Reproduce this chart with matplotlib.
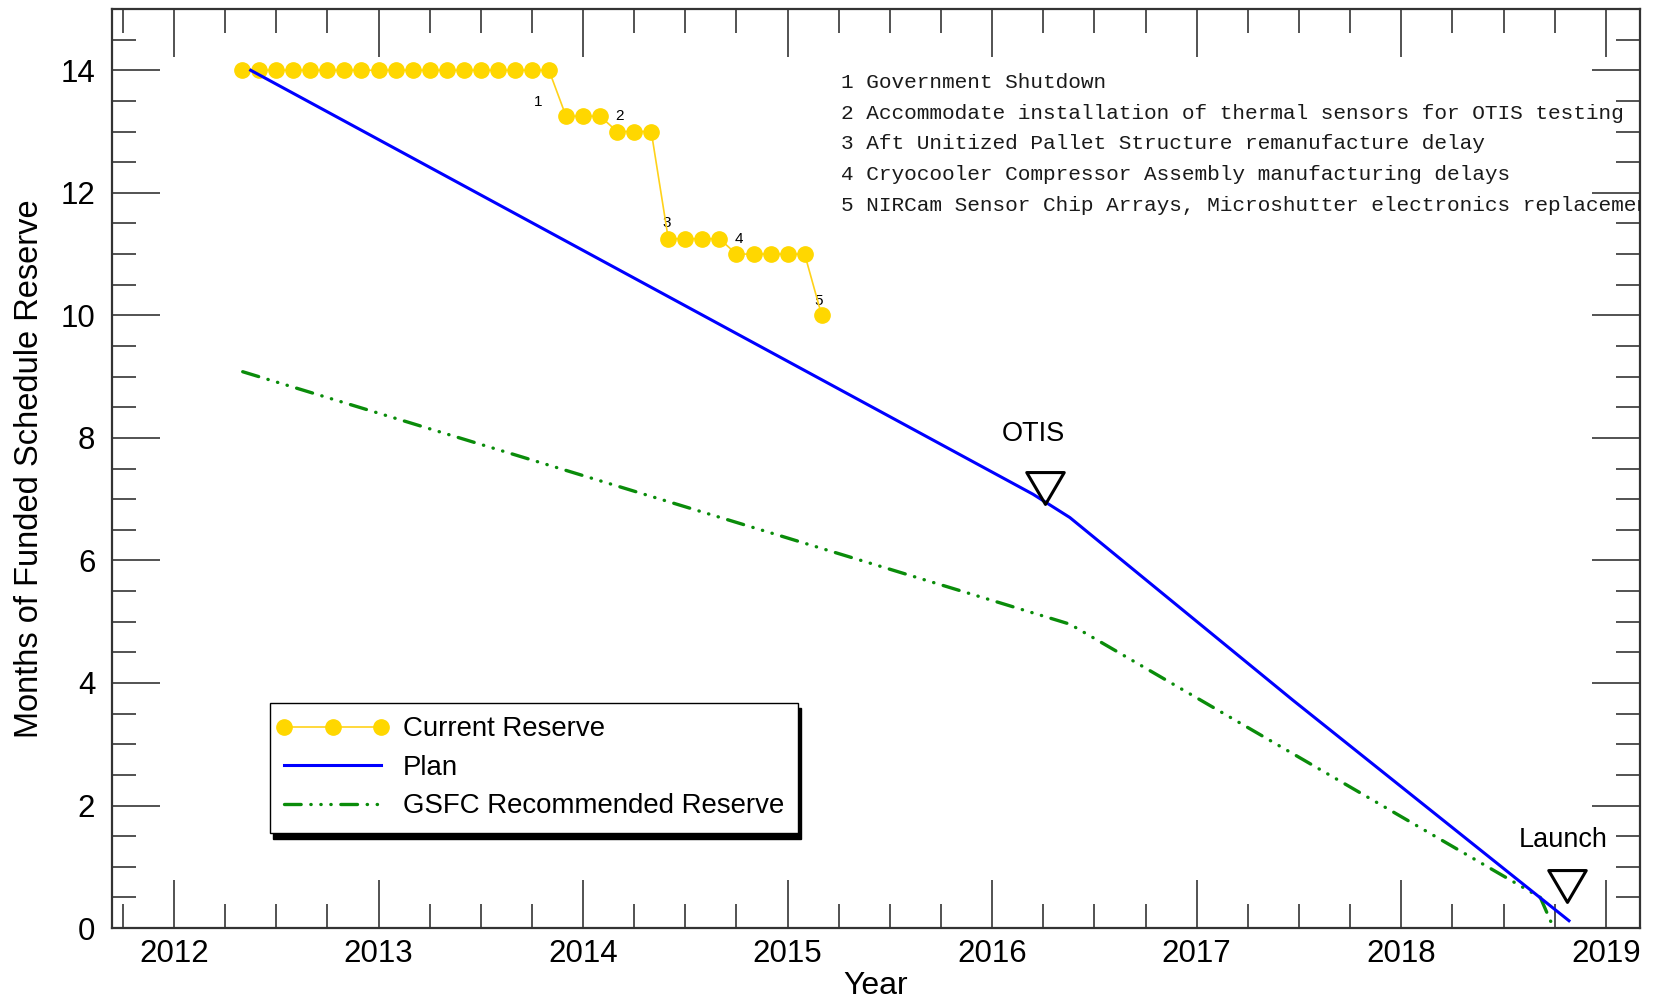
import matplotlib
matplotlib.use('Agg')
import matplotlib.pyplot as plt
from matplotlib.ticker import AutoMinorLocator, MultipleLocator
from matplotlib.path import Path
from matplotlib.lines import Line2D
from matplotlib.legend_handler import HandlerLine2D

plt.rcParams['font.family'] = ['Liberation Sans', 'DejaVu Sans']

# current reserve, one value per month
months = ['2012-05', '2012-06', '2012-07', '2012-08', '2012-09', '2012-10', '2012-11', '2012-12',
          '2013-01', '2013-02', '2013-03', '2013-04', '2013-05', '2013-06', '2013-07', '2013-08',
          '2013-09', '2013-10', '2013-11', '2013-12',
          '2014-01', '2014-02', '2014-03', '2014-04', '2014-05', '2014-06', '2014-07', '2014-08',
          '2014-09', '2014-10', '2014-11', '2014-12',
          '2015-01', '2015-02', '2015-03']
current = [14, 14, 14, 14, 14, 14, 14, 14,
           14, 14, 14, 14, 14, 14, 14, 14,
           14, 14, 14, 13.25,
           13.25, 13.25, 13, 13, 13, 11.25, 11.25, 11.25,
           11.25, 11, 11, 11,
           11, 11, 10]

plan_x = [2012.375, 2016.2, 2016.38, 2017.47, 2018.82]
plan_y = [14.0, 7.08, 6.70, 3.72, 0.12]

gsfc_x = [2012.336, 2016.38, 2018.68, 2018.745]
gsfc_y = [9.08, 4.96, 0.50, 0.0]

# numbered events on the current reserve line
step_labels = ['1', '2', '3', '4', '5']
step_x = [2013.78, 2014.18, 2014.41, 2014.76, 2015.15]
step_y = [13.49, 13.25, 11.50, 11.24, 10.24]

notes = ['1 Government Shutdown',
         '2 Accommodate installation of thermal sensors for OTIS testing',
         '3 Aft Unitized Pallet Structure remanufacture delay',
         '4 Cryocooler Compressor Assembly manufacturing delays',
         '5 NIRCam Sensor Chip Arrays, Microshutter electronics replacement']
notes_x = 2015.26
notes_y = [13.8, 13.3, 12.8, 12.3, 11.8]

milestones = ['OTIS', 'Launch']
milestone_x = [2016.26, 2018.81]
milestone_y = [7.18, 0.68]
milestone_text_x = [2016.20, 2018.79]
milestone_text_y = [8.06, 1.43]


def to_year(m):
    y, mo = m.split('-')
    return int(y) + (int(mo) - 1) / 12.0


cur_x = [to_year(m) for m in months]

fig = plt.figure(figsize=(16.57, 9.99), dpi=100)
ax = fig.add_axes([0.0676, 0.071, 0.9221, 0.920])

ax.plot(cur_x, current, color='#FFD21A', lw=1.2, marker='o', ms=11,
        mfc='#FFD700', mec='#FFD700', label='Current Reserve', zorder=4)
ax.plot(plan_x, plan_y, color='#0000FF', lw=2.2, label='Plan', zorder=5)
ax.plot(gsfc_x, gsfc_y, color='#0A8C0A', lw=2.4,
        linestyle=(0, (5.0, 2.9, 0.1, 2.9, 0.1, 2.9, 0.1, 2.9)),
        dash_capstyle='round', label='GSFC Recommended Reserve', zorder=3)

tri = Path([(-1, 0.85), (1, 0.85), (0, -0.85), (-1, 0.85)],
           [Path.MOVETO, Path.LINETO, Path.LINETO, Path.CLOSEPOLY])
ax.plot(milestone_x, milestone_y, linestyle='none', marker=tri, ms=27,
        mfc='none', mec='black', mew=2.2, zorder=6)
for name, tx, ty in zip(milestones, milestone_text_x, milestone_text_y):
    ax.text(tx, ty, name, fontsize=19.5, ha='center', va='center')

for lab, sx, sy in zip(step_labels, step_x, step_y):
    ax.text(sx, sy, lab, fontsize=11, ha='center', va='center')

# last note runs past the right edge in the original, so it is clipped
for note, ny in zip(notes, notes_y):
    ax.text(notes_x, ny, note, family='Liberation Mono', fontsize=15.2,
            color='#1a1a1a', ha='left', va='center', clip_on=True)

ax.set_xlim(2011.697, 2019.167)
ax.set_ylim(0, 15)
ax.xaxis.set_major_locator(MultipleLocator(1))
ax.xaxis.set_minor_locator(AutoMinorLocator(4))
ax.yaxis.set_major_locator(MultipleLocator(2))
ax.yaxis.set_minor_locator(AutoMinorLocator(4))
ax.xaxis.set_major_formatter(matplotlib.ticker.FormatStrFormatter('%d'))

ax.tick_params(which='both', direction='in', top=True, right=True, color='#444444')
ax.tick_params(which='major', length=34.5, width=1.3, labelsize=22.5)
ax.tick_params(axis='x', which='major', pad=8)
ax.tick_params(axis='y', which='major', pad=12)
ax.tick_params(which='minor', length=17.3, width=1.3)
for sp in ax.spines.values():
    sp.set_color('#333333')
    sp.set_linewidth(1.6)

ax.set_xlabel('Year', fontsize=23)
ax.set_ylabel('Months of Funded Schedule Reserve', fontsize=23.5)
ax.xaxis.set_label_coords(0.5, -0.047)
ax.yaxis.set_label_coords(-0.044, 0.5)

leg = ax.legend(loc='lower left', bbox_to_anchor=(0.1037, 0.1034), borderaxespad=0,
                fontsize=19.9, numpoints=3, handlelength=3.5, handletextpad=0.8,
                borderpad=0.5, labelspacing=0.45,
                fancybox=False, framealpha=1, edgecolor='black',
                handler_map={Line2D: HandlerLine2D(marker_pad=0)},
                shadow={'ox': 2, 'oy': -4, 'color': 'black', 'alpha': 1})
leg.get_frame().set_linewidth(1.0)

fig.savefig('out.png', dpi=100)
